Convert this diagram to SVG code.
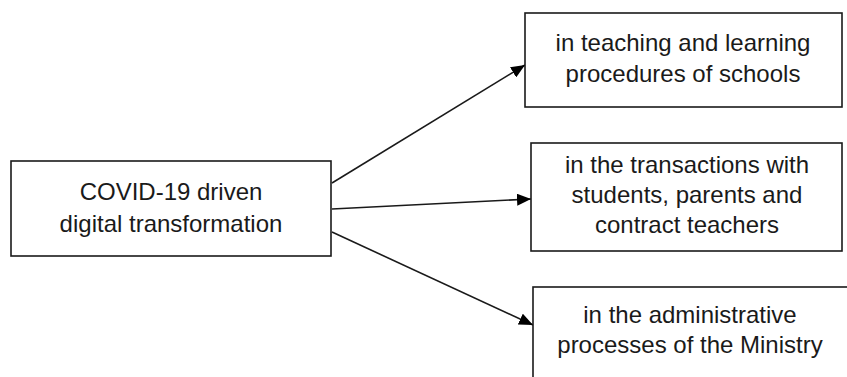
<svg xmlns="http://www.w3.org/2000/svg" width="847" height="377" viewBox="0 0 847 377">
<style>
.box{fill:#fff;stroke:#1a1a1a;stroke-width:1.6}
.t{font-family:"Liberation Sans",Arial,sans-serif;font-size:24px;fill:#1a1a1a;text-anchor:middle}
.c{stroke:#1a1a1a;stroke-width:1.6;fill:none;marker-end:url(#ah)}
</style>
<defs>
<marker id="ah" markerUnits="userSpaceOnUse" markerWidth="14" markerHeight="12" refX="14" refY="6" orient="auto">
<path d="M0,0 L14,6 L0,12 z" fill="#000"/>
</marker>
</defs>
<rect width="847" height="377" fill="#fff"/>
<g id="connectors">
<line class="c" x1="332" y1="183" x2="525" y2="65"/>
<line class="c" x1="332" y1="209" x2="531" y2="199"/>
<line class="c" x1="332" y1="232" x2="533" y2="325"/>
</g>
<g id="source">
<rect class="box" x="11" y="161" width="320" height="95"/>
<text class="t" x="171" y="200">COVID-19 driven</text>
<text class="t" x="171" y="232">digital transformation</text>
</g>
<g id="teaching">
<rect class="box" x="525" y="13" width="317" height="94"/>
<text class="t" x="683" y="51">in teaching and learning</text>
<text class="t" x="683" y="82">procedures of schools</text>
</g>
<g id="transactions">
<rect class="box" x="531" y="143" width="311" height="108"/>
<text class="t" x="687" y="173">in the transactions with</text>
<text class="t" x="687" y="203">students, parents and</text>
<text class="t" x="687" y="233">contract teachers</text>
</g>
<g id="administrative">
<rect class="box" x="533" y="287" width="315" height="100"/>
<text class="t" x="690" y="323">in the administrative</text>
<text class="t" x="690" y="353">processes of the Ministry</text>
</g>
</svg>
